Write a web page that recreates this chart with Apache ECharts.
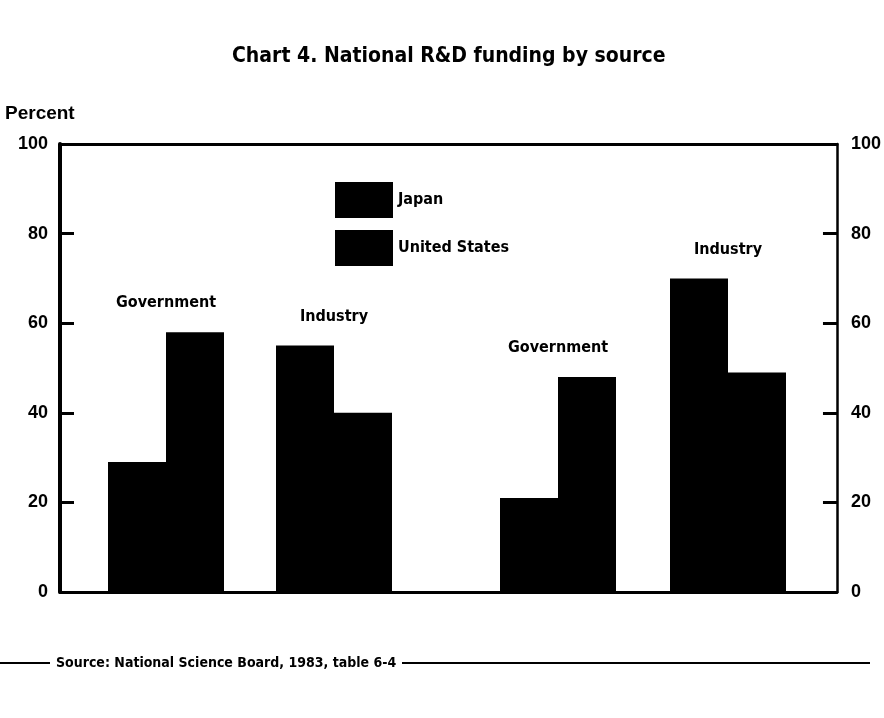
<!DOCTYPE html>
<html><head><meta charset="utf-8">
<script src="https://cdn.jsdelivr.net/npm/echarts@6/dist/echarts.min.js"></script>
<style>html,body{margin:0;background:#fff}#c{width:884px;height:718px}</style>
</head><body><div id="c"></div><script>
// ---- data ----
const categories = ['Government', 'Industry', 'Government', 'Industry'];
const japan = [29, 55, 21, 70];
const unitedStates = [58, 40, 48, 49];
const seriesNames = ['Japan', 'United States'];
const yMin = 0, yMax = 100, yStep = 20;
const titleText = 'Chart 4. National R&D funding by source';
const yName = 'Percent';
const sourceText = 'Source: National Science Board, 1983, table 6-4';

// ---- layout ----
const NARROW = '"DejaVu Sans Condensed","Liberation Sans Narrow",sans-serif';
const SANS = '"Liberation Sans",Arial,sans-serif';
const TOP = 144, BOTTOM = 126;
const chart = echarts.init(document.getElementById('c'));

const groups = [[0, 2], [2, 4]];
const subGrids = [{ left: 82, width: 336 }, { left: 473, width: 340 }];

const grid = [{ left: 60, right: 42, top: TOP, bottom: BOTTOM }]
  .concat(subGrids.map(g => Object.assign({ top: TOP, bottom: BOTTOM }, g)));

const xAxis = [
  { gridIndex: 0, type: 'value', min: 0, max: 1, position: 'bottom',
    axisLine: { show: true, onZero: false, lineStyle: { color: '#000', width: 3 } },
    axisTick: { show: false }, axisLabel: { show: false }, splitLine: { show: false } },
  { gridIndex: 0, type: 'value', min: 0, max: 1, position: 'top',
    axisLine: { show: true, onZero: false, lineStyle: { color: '#000', width: 3 } },
    axisTick: { show: false }, axisLabel: { show: false }, splitLine: { show: false } }
];
const yAxis = [
  { gridIndex: 0, type: 'value', min: yMin, max: yMax, interval: yStep, position: 'left',
    axisLine: { show: true, onZero: false, lineStyle: { color: '#000', width: 4 } },
    axisTick: { show: true, inside: true, length: 14, lineStyle: { color: '#000', width: 3 } },
    axisLabel: { margin: 12, color: '#000', fontSize: 18, fontWeight: 'bold', fontFamily: SANS },
    splitLine: { show: false } },
  { gridIndex: 0, type: 'value', min: yMin, max: yMax, interval: yStep, position: 'right',
    axisLine: { show: true, onZero: false, lineStyle: { color: '#000', width: 2.5 } },
    axisTick: { show: true, inside: true, length: 14, lineStyle: { color: '#000', width: 3 } },
    axisLabel: { margin: 14, color: '#000', fontSize: 18, fontWeight: 'bold', fontFamily: SANS },
    splitLine: { show: false } }
];
const series = [];
groups.forEach((rng, gi) => {
  const cats = categories.slice(rng[0], rng[1]);
  xAxis.push({ gridIndex: gi + 1, type: 'category', data: cats, show: false });
  yAxis.push({ gridIndex: gi + 1, type: 'value', min: yMin, max: yMax, show: false });
  const xi = xAxis.length - 1, yi = yAxis.length - 1;
  [japan, unitedStates].forEach((vals, si) => {
    series.push({
      type: 'bar', name: seriesNames[si], xAxisIndex: xi, yAxisIndex: yi,
      data: vals.slice(rng[0], rng[1]), barWidth: 58, barGap: '0%',
      itemStyle: { color: '#000' }, silent: true
    });
  });
  series.push({
    type: 'scatter', name: 'labels' + gi, xAxisIndex: xi, yAxisIndex: yi,
    data: cats.map((c, k) => Math.max(japan[rng[0] + k], unitedStates[rng[0] + k])),
    symbolSize: 0, silent: true, itemStyle: { opacity: 1, color: '#000' },
    label: { show: true, position: 'top', distance: 21, formatter: p => p.name,
      color: '#000', fontSize: 16, fontWeight: 'bold', fontFamily: NARROW }
  });
});

chart.setOption({
  animation: false,
  backgroundColor: '#fff',
  grid, xAxis, yAxis, series,
  legend: {
    data: seriesNames, orient: 'vertical', left: 330, top: 177,
    itemWidth: 58, itemHeight: 36, itemGap: 12, icon: 'rect',
    textStyle: { color: '#000', fontSize: 16, fontWeight: 'bold', fontFamily: NARROW },
    selectedMode: false
  },
  graphic: [
    { type: 'text', left: 232, top: 46, style: { text: titleText, fill: '#000',
        font: 'bold 21px ' + NARROW } },
    { type: 'text', left: 5, top: 104, style: { text: yName, fill: '#000',
        font: 'bold 19px ' + SANS } },
    { type: 'line', shape: { x1: 0, y1: 663, x2: 50, y2: 663 }, style: { stroke: '#000', lineWidth: 2 } },
    { type: 'line', shape: { x1: 402, y1: 663, x2: 870, y2: 663 }, style: { stroke: '#000', lineWidth: 2 } },
    { type: 'text', left: 56, top: 656, style: { text: sourceText, fill: '#000',
        font: 'bold 14px ' + NARROW } }
  ]
});
</script></body></html>
